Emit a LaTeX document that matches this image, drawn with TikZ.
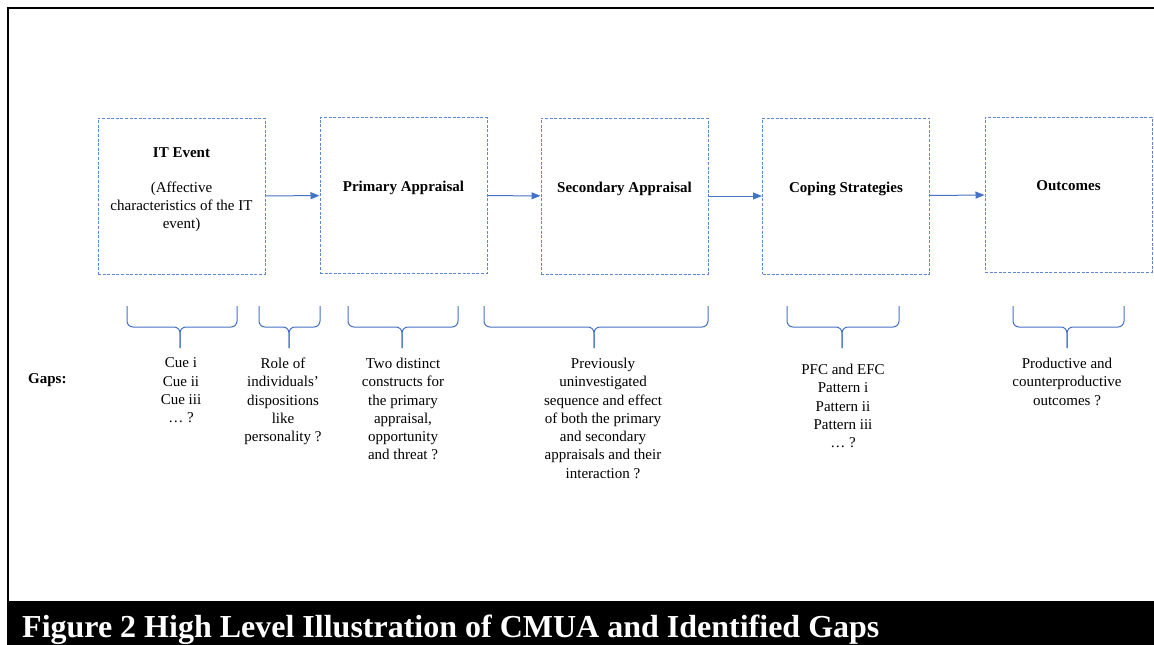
\documentclass[tikz,border=0pt]{standalone}
\usepackage{fontspec}
\setmainfont{Liberation Serif}
\usetikzlibrary{arrows.meta}
\definecolor{lineblue}{RGB}{68,114,196}
\definecolor{boxblue}{RGB}{95,135,212}
\begin{document}
\begin{tikzpicture}[x=1pt,y=-1pt,
  stagebox/.style={draw=boxblue,line width=1pt,dash pattern=on 3pt off 1.6pt,minimum width=167pt,minimum height=156pt,inner sep=0pt},
  flow/.style={draw=lineblue,line width=1pt,-{Triangle[length=9pt,width=7pt]}},
  gapbrace/.style={draw=lineblue,line width=1pt,rounded corners=6pt},
  body/.style={font=\fontsize{15}{18.3}\selectfont,align=center,inner sep=0pt,anchor=north},
  boxtitle/.style={font=\fontsize{15}{18.3}\selectfont\bfseries,inner sep=0pt,anchor=base},
]
\useasboundingbox (0,0) rectangle (1154,645);

% frame and caption band
\draw[line width=2pt,line join=miter] (8,601) -- (8,8) -- (1154,8);
\fill[black] (7,601) rectangle (1154,645);
\node[anchor=base west,text=white,font=\fontsize{32}{36}\selectfont\bfseries,inner sep=0pt] (cap) at (22,637) {Figure 2 High Level Illustration of CMUA and Identified Gaps};

% stage boxes
\node[stagebox] (b1) at (181.5,196) {};
\node[stagebox] (b2) at (403.5,195.5) {};
\node[stagebox] (b3) at (624.5,196) {};
\node[stagebox] (b4) at (846,196) {};
\node[stagebox,minimum height=155pt] (b5) at (1068.5,194.5) {};

% titles
\node[boxtitle] (t1) at (181.5,157) {IT Event};
\node[body] (t1b) at (181.5,181.5) {(Affective\\characteristics of the IT\\event)};
\node[boxtitle] (t2) at (403.5,191) {Primary Appraisal};
\node[boxtitle] (t3) at (624.5,192) {Secondary Appraisal};
\node[boxtitle] (t4) at (846,192) {Coping Strategies};
\node[boxtitle] (t5) at (1068.5,190) {Outcomes};

% arrows
\draw[flow] (b1) -- (b2);
\draw[flow] (b2) -- (b3);
\draw[flow] (b3) -- (b4);
\draw[flow] (b4) -- (b5);

% braces
\coordinate (p1) at (180,348);
\draw[gapbrace] (127,306) -- (127,327) -- (180,327) -- (p1);
\draw[gapbrace] (237,306) -- (237,327) -- (180,327) -- (p1);
\coordinate (p2) at (289,348);
\draw[gapbrace] (259,306) -- (259,327) -- (289,327) -- (p2);
\draw[gapbrace] (320,306) -- (320,327) -- (289,327) -- (p2);
\coordinate (p3) at (402,348);
\draw[gapbrace] (348,306) -- (348,327) -- (402,327) -- (p3);
\draw[gapbrace] (458,306) -- (458,327) -- (402,327) -- (p3);
\coordinate (p4) at (594,348);
\draw[gapbrace] (484,306) -- (484,327) -- (594,327) -- (p4);
\draw[gapbrace] (708,306) -- (708,327) -- (594,327) -- (p4);
\coordinate (p5) at (842,348);
\draw[gapbrace] (787,306) -- (787,327) -- (842,327) -- (p5);
\draw[gapbrace] (899,306) -- (899,327) -- (842,327) -- (p5);
\coordinate (p6) at (1067,348);
\draw[gapbrace] (1013,306) -- (1013,327) -- (1067,327) -- (p6);
\draw[gapbrace] (1124,306) -- (1124,327) -- (1067,327) -- (p6);

% gap texts
\node[boxtitle,anchor=base west] (gaps) at (28,383.5) {Gaps:};
\node[body] (g1) at (181,357.8) {Cue i\\Cue ii\\Cue iii\\… ?};
\node[body] (g2) at (283,357.8) {Role of\\individuals’\\dispositions\\like\\personality ?};
\node[body] (g3) at (403,357.8) {Two distinct\\constructs for\\the primary\\appraisal,\\opportunity\\and threat ?};
\node[body] (g4) at (603,357.8) {Previously\\uninvestigated\\sequence and effect\\of both the primary\\and secondary\\appraisals and their\\interaction ?};
\node[body] (g5) at (843,363.8) {PFC and EFC\\Pattern i\\Pattern ii\\Pattern iii\\… ?};
\node[body] (g6) at (1067,357.8) {Productive and\\counterproductive\\outcomes ?};
\end{tikzpicture}
\end{document}
